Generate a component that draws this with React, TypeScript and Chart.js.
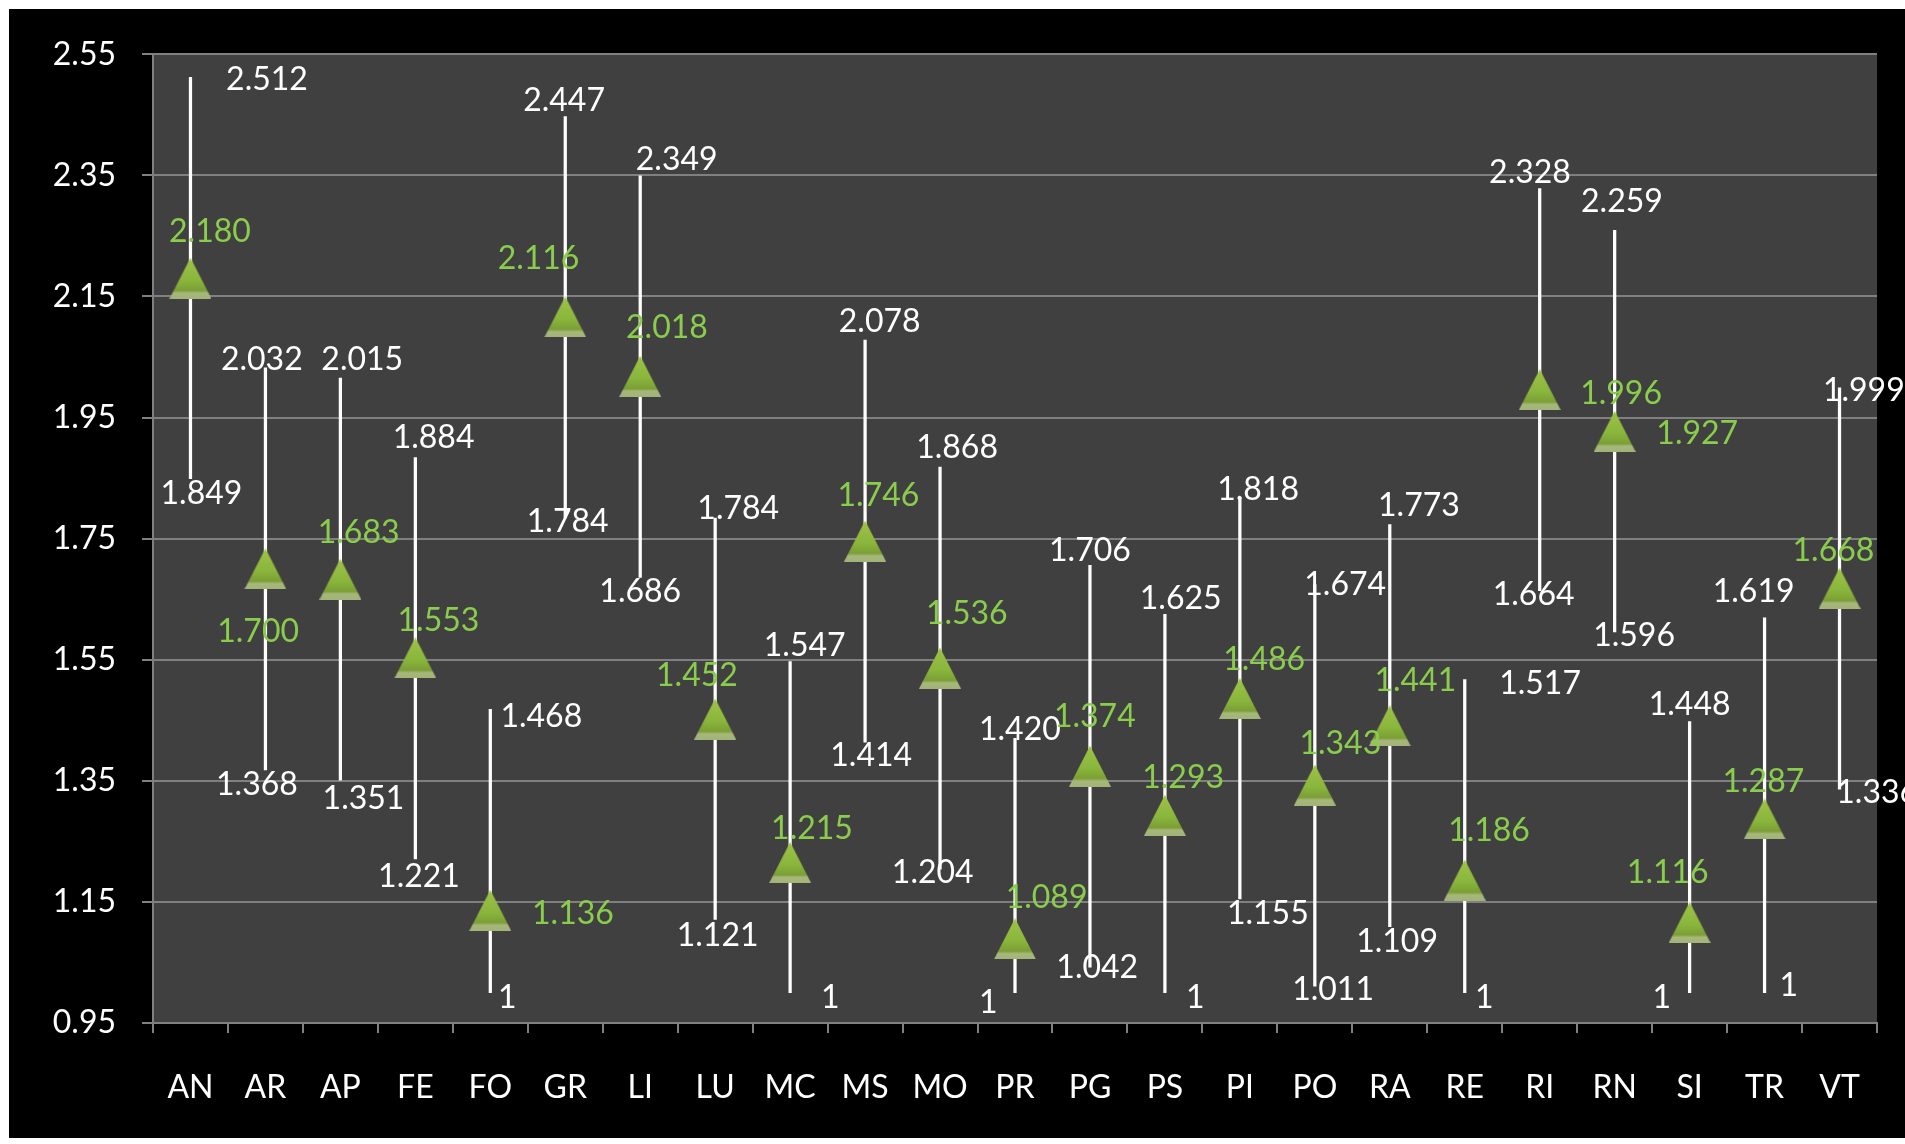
import React, { useEffect, useRef } from "react";
import { Chart, registerables } from "chart.js";

Chart.register(...registerables);

const categories = ["AN", "AR", "AP", "FE", "FO", "GR", "LI", "LU", "MC", "MS", "MO", "PR", "PG", "PS", "PI", "PO", "RA", "RE", "RI", "RN", "SI", "TR", "VT"];
const meanValues = [2.180, 1.700, 1.683, 1.553, 1.136, 2.116, 2.018, 1.452, 1.215, 1.746, 1.536, 1.089, 1.374, 1.293, 1.486, 1.343, 1.441, 1.186, 1.996, 1.927, 1.116, 1.287, 1.668];
const highValues = [2.512, 2.032, 2.015, 1.884, 1.468, 2.447, 2.349, 1.784, 1.547, 2.078, 1.868, 1.420, 1.706, 1.625, 1.818, 1.674, 1.773, 1.517, 2.328, 2.259, 1.448, 1.619, 1.999];
const lowValues = [1.849, 1.368, 1.351, 1.221, 1, 1.784, 1.686, 1.121, 1, 1.414, 1.204, 1, 1.042, 1, 1.155, 1.011, 1.109, 1, 1.664, 1.596, 1, 1, 1.336];

// label placement offsets (label centre relative to its anchor), layout only
const highLabelOffsets = [[63, 2], [-3, -7], [18, -15], [15, -16], [42, 6], [-1, -13], [30, -13], [19, -8], [12, -13], [12, -15], [14, -16], [4, -7], [0, -12], [13, -13], [15, -6], [25, 0], [24, -16], [62, 3], [-8, -13], [6, -24], [0, -14], [-9, -22], [20, 2]];
const meanLabelOffsets = [[16, -38], [-6, 52], [15, -38], [19, -31], [68, 3], [-22, -48], [22, -40], [-15, -36], [18, -28], [11, -37], [22, -45], [26, -34], [4, -41], [15, -31], [20, -32], [21, -34], [21, -37], [20, -41], [67, 3], [68, 2], [-18, -41], [-1, -31], [-5, -31]];
const lowLabelOffsets = [[9, 12], [-7, 12], [19, 15], [3, 15], [14, 4], [2, 3], [0, 12], [2, 13], [33, 4], [5, 11], [-6, 3], [-22, 8], [6, 0], [25, 4], [23, 12], [15, 3], [6, 12], [16, 4], [-5, 3], [16, 3], [-23, 4], [20, -6], [31, 3]];

const OFFSET_SCALE = 1905 / 1568;
const FONT = "Lato, 'Open Sans', sans-serif";
const FONT_SIZE = 32;
const GREEN_TEXT = "#8acd4c";

function fmt(v: number) {
  return Number.isInteger(v) ? String(v) : v.toFixed(3);
}

function makeTriangle(): HTMLCanvasElement {
  const w = 42;
  const h = 41;
  const c = document.createElement("canvas");
  c.width = w;
  c.height = h;
  const ctx = c.getContext("2d")!;
  ctx.beginPath();
  ctx.moveTo(w / 2, 0);
  ctx.lineTo(w, h);
  ctx.lineTo(0, h);
  ctx.closePath();
  const g = ctx.createLinearGradient(0, 0, 0, h);
  g.addColorStop(0, "#9ec447");
  g.addColorStop(0.55, "#8ab63c");
  g.addColorStop(0.8, "#7b9f36");
  g.addColorStop(0.86, "#a7b879");
  g.addColorStop(1, "#a2b47a");
  ctx.fillStyle = g;
  ctx.fill();
  return c;
}

export default function App() {
  const canvasRef = useRef<HTMLCanvasElement | null>(null);

  useEffect(() => {
    let chart: Chart | null = null;
    let cancelled = false;

    const build = () => {
      if (cancelled || !canvasRef.current) return;
      const tri = makeTriangle();

      const plotBg = {
        id: "plotBg",
        beforeDraw(c: any) {
          const { ctx, chartArea } = c;
          ctx.save();
          ctx.fillStyle = "#404040";
          ctx.fillRect(chartArea.left, chartArea.top, chartArea.right - chartArea.left, chartArea.bottom - chartArea.top);
          ctx.restore();
        },
      };

      const labels = {
        id: "valueLabels",
        afterDatasetsDraw(c: any) {
          const { ctx, scales } = c;
          const xs = scales.x;
          const ys = scales.y;
          ctx.save();
          ctx.font = `${FONT_SIZE}px ${FONT}`;
          ctx.textAlign = "center";
          ctx.textBaseline = "middle";
          categories.forEach((_, i) => {
            const x = xs.getPixelForValue(i);
            const draw = (v: number, off: number[], color: string) => {
              ctx.fillStyle = color;
              ctx.fillText(fmt(v), x + off[0] * OFFSET_SCALE, ys.getPixelForValue(v) + off[1] * OFFSET_SCALE);
            };
            draw(highValues[i], highLabelOffsets[i], "#ffffff");
            draw(lowValues[i], lowLabelOffsets[i], "#ffffff");
            draw(meanValues[i], meanLabelOffsets[i], GREEN_TEXT);
          });
          ctx.restore();
        },
      };

      chart = new Chart(canvasRef.current, {
        type: "bar",
        data: {
          labels: categories,
          datasets: [
            {
              type: "line",
              label: "mean",
              data: meanValues,
              showLine: false,
              pointStyle: tri as any,
              pointRadius: 21,
              order: 0,
            } as any,
            {
              type: "bar",
              label: "range",
              data: lowValues.map((l, i) => [l, highValues[i]]),
              backgroundColor: "#ffffff",
              borderWidth: 0,
              barThickness: 2.6,
              order: 1,
            } as any,
          ],
        },
        options: {
          animation: false,
          responsive: false,
          maintainAspectRatio: false,
          layout: { padding: { left: 0, top: 41, right: 28, bottom: 0 } },
          plugins: {
            legend: { display: false },
            tooltip: { enabled: false },
          },
          scales: {
            x: {
              offset: true,
              grid: {
                display: true,
                offset: true,
                drawOnChartArea: false,
                drawTicks: true,
                tickLength: 10,
                color: "#808080",
                lineWidth: 2,
              },
              border: { display: true, color: "#808080", width: 2 },
              ticks: {
                color: "#ffffff",
                font: { family: FONT, size: FONT_SIZE },
                padding: 35,
                maxRotation: 0,
                autoSkip: false,
              },
              afterFit(scale: any) {
                scale.height = 115;
              },
            },
            y: {
              min: 0.95,
              max: 2.55,
              ticks: {
                stepSize: 0.2,
                color: "#ffffff",
                font: { family: FONT, size: FONT_SIZE },
                padding: 26,
                callback: (v: any) => Number(v).toFixed(2),
              },
              grid: {
                color: "#808080",
                lineWidth: 2,
                drawTicks: true,
                tickLength: 11,
              },
              border: { display: true, color: "#808080", width: 2 },
              afterFit(scale: any) {
                scale.width = 144;
              },
            },
          },
        },
        plugins: [plotBg, labels],
      } as any);
    };

    const fontsReady = (document as any).fonts
      ? Promise.all([
          (document as any).fonts.load(`${FONT_SIZE}px Lato`),
        ]).catch(() => null)
      : Promise.resolve(null);
    fontsReady.then(build);

    return () => {
      cancelled = true;
      if (chart) chart.destroy();
    };
  }, []);

  return (
    <div
      style={{
        position: "absolute",
        left: 9,
        top: 9,
        width: 1896,
        height: 1129,
        background: "#000000",
      }}
    >
      <canvas ref={canvasRef} width={1896} height={1129} style={{ display: "block", width: 1896, height: 1129 }} />
    </div>
  );
}
